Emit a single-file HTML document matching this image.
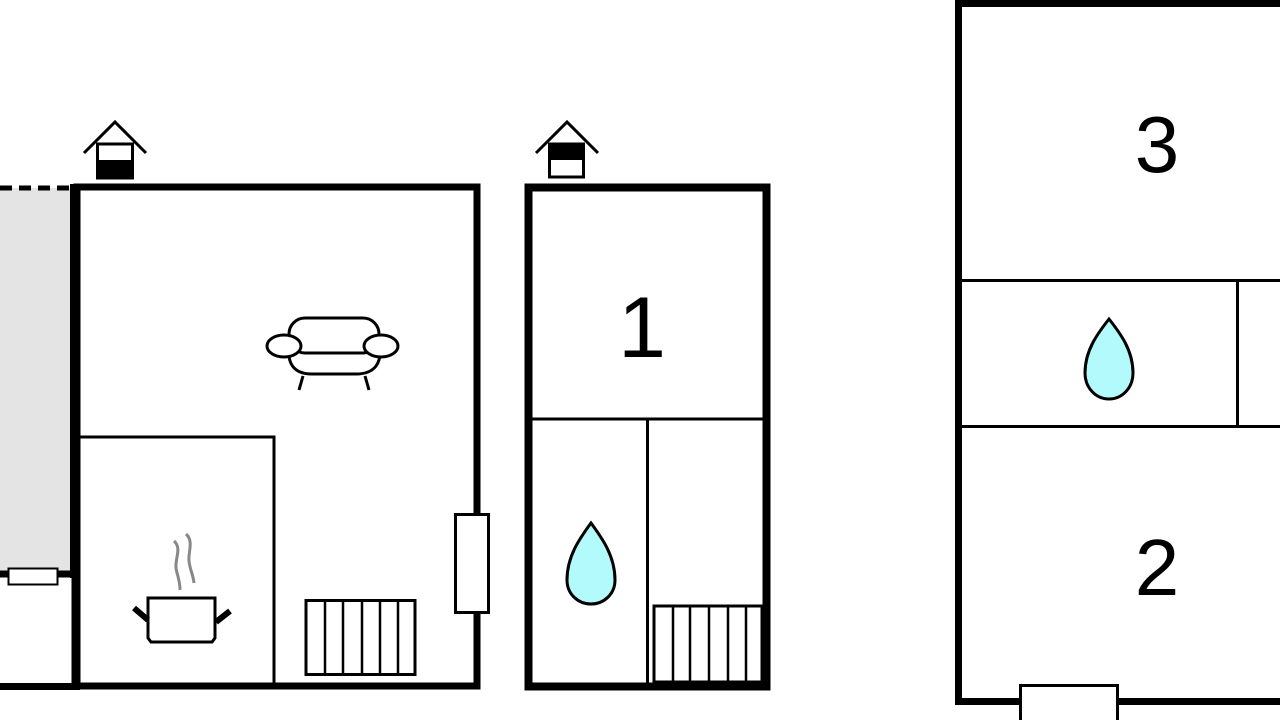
<!DOCTYPE html>
<html><head><style>html,body{margin:0;padding:0;background:#fff;}svg{display:block;}</style></head>
<body>
<svg width="1280" height="720" viewBox="0 0 1280 720" xmlns="http://www.w3.org/2000/svg">
<rect width="1280" height="720" fill="#fff"/>
<!-- Left building -->
<rect x="0" y="188" width="72" height="386" fill="#e4e4e4"/>
<line x1="0" y1="188" x2="72" y2="188" stroke="#000" stroke-width="5" stroke-dasharray="12,7"/>
<rect x="77" y="187" width="400" height="499" fill="none" stroke="#000" stroke-width="7"/>
<line x1="73.5" y1="184" x2="73.5" y2="578" stroke="#000" stroke-width="7"/>
<line x1="0" y1="574" x2="74" y2="574" stroke="#000" stroke-width="7"/>
<line x1="73" y1="576" x2="73" y2="688" stroke="#000" stroke-width="3"/>
<line x1="0" y1="686.5" x2="80" y2="686.5" stroke="#000" stroke-width="7"/>
<rect x="8.5" y="568.5" width="49" height="16" fill="#fff" stroke="#000" stroke-width="2"/>
<polyline points="77,437 274,437 274,686" fill="none" stroke="#000" stroke-width="3"/>
<rect x="455.5" y="514.5" width="33" height="98" fill="#fff" stroke="#000" stroke-width="3"/>
<rect x="306" y="600.5" width="109" height="74" fill="#fff" stroke="#000" stroke-width="3"/>
<g stroke="#000" stroke-width="2.5"><line x1="325" y1="601" x2="325" y2="674"/><line x1="343" y1="601" x2="343" y2="674"/><line x1="362" y1="601" x2="362" y2="674"/><line x1="380" y1="601" x2="380" y2="674"/><line x1="398" y1="601" x2="398" y2="674"/></g>
<!-- pot -->
<path d="M148,598 H215 V638 L212,642 H151 L148,638 Z" fill="#fff" stroke="#000" stroke-width="3"/>
<line x1="134" y1="608" x2="148" y2="620" stroke="#000" stroke-width="6"/>
<line x1="230" y1="611" x2="216" y2="622" stroke="#000" stroke-width="6"/>
<path d="M174,541 C182,548 175,558 176,568 C177,575 180,580 180,590" fill="none" stroke="#888" stroke-width="3"/>
<path d="M186,534 C194,541 188,552 189,561 C190,570 193,574 194,583" fill="none" stroke="#888" stroke-width="3"/>
<!-- sofa -->
<g fill="#fff" stroke="#000" stroke-width="3">
<path d="M290,340 C285,365 295,374 312,374 H356 C373,374 384,365 379,340 Z"/>
<rect x="289" y="318" width="90" height="35" rx="16"/>
<ellipse cx="284" cy="346" rx="17" ry="11"/>
<ellipse cx="381" cy="346" rx="17" ry="11"/>
</g>
<line x1="303" y1="376" x2="299" y2="390" stroke="#000" stroke-width="3"/>
<line x1="365" y1="376" x2="369" y2="390" stroke="#000" stroke-width="3"/>
<!-- house icon left -->
<polyline points="84,153 115,122 146,153" fill="none" stroke="#000" stroke-width="3"/>
<rect x="97.5" y="144" width="35" height="34" fill="#fff" stroke="#000" stroke-width="3"/>
<rect x="97" y="160" width="36" height="18" fill="#000"/>
<!-- Middle building -->
<rect x="528.5" y="187.5" width="238" height="499" fill="none" stroke="#000" stroke-width="8"/>
<line x1="532" y1="419" x2="763" y2="419" stroke="#000" stroke-width="3"/>
<line x1="647.5" y1="419" x2="647.5" y2="686" stroke="#000" stroke-width="3"/>
<text x="642" y="357" font-family="Liberation Sans, sans-serif" font-size="86" text-anchor="middle" fill="#000">1</text>
<path d="M591,523 C580,538 567,556 567,580 C567,594 578,604 591,604 C604,604 615,594 615,580 C615,556 602,538 591,523 Z" fill="#b3fafc" stroke="#000" stroke-width="3"/>
<rect x="654" y="606" width="108" height="76" fill="#fff" stroke="#000" stroke-width="3"/>
<g stroke="#000" stroke-width="2.5"><line x1="673" y1="606" x2="673" y2="682"/><line x1="690" y1="606" x2="690" y2="682"/><line x1="709" y1="606" x2="709" y2="682"/><line x1="728" y1="606" x2="728" y2="682"/><line x1="746" y1="606" x2="746" y2="682"/></g>
<!-- house icon middle -->
<polyline points="536,153 567,122 598,153" fill="none" stroke="#000" stroke-width="3"/>
<rect x="549.5" y="144" width="34" height="33" fill="#fff" stroke="#000" stroke-width="3"/>
<rect x="549" y="143" width="35" height="17" fill="#000"/>
<!-- Right building -->
<rect x="958.5" y="3.5" width="340" height="698" fill="none" stroke="#000" stroke-width="7"/>
<line x1="962" y1="280.5" x2="1280" y2="280.5" stroke="#000" stroke-width="3"/>
<line x1="962" y1="426.5" x2="1280" y2="426.5" stroke="#000" stroke-width="3"/>
<line x1="1237.5" y1="280" x2="1237.5" y2="427" stroke="#000" stroke-width="3"/>
<text x="1157" y="172" font-family="Liberation Sans, sans-serif" font-size="80" text-anchor="middle" fill="#000">3</text>
<text x="1157" y="595" font-family="Liberation Sans, sans-serif" font-size="80" text-anchor="middle" fill="#000">2</text>
<path d="M1109,319 C1098,333 1085,350 1085,373 C1085,388 1096,399 1109,399 C1122,399 1133,388 1133,373 C1133,350 1120,333 1109,319 Z" fill="#b3fafc" stroke="#000" stroke-width="3"/>
<rect x="1020.5" y="685.5" width="97" height="36" fill="#fff" stroke="#000" stroke-width="3"/>
</svg>
</body></html>
